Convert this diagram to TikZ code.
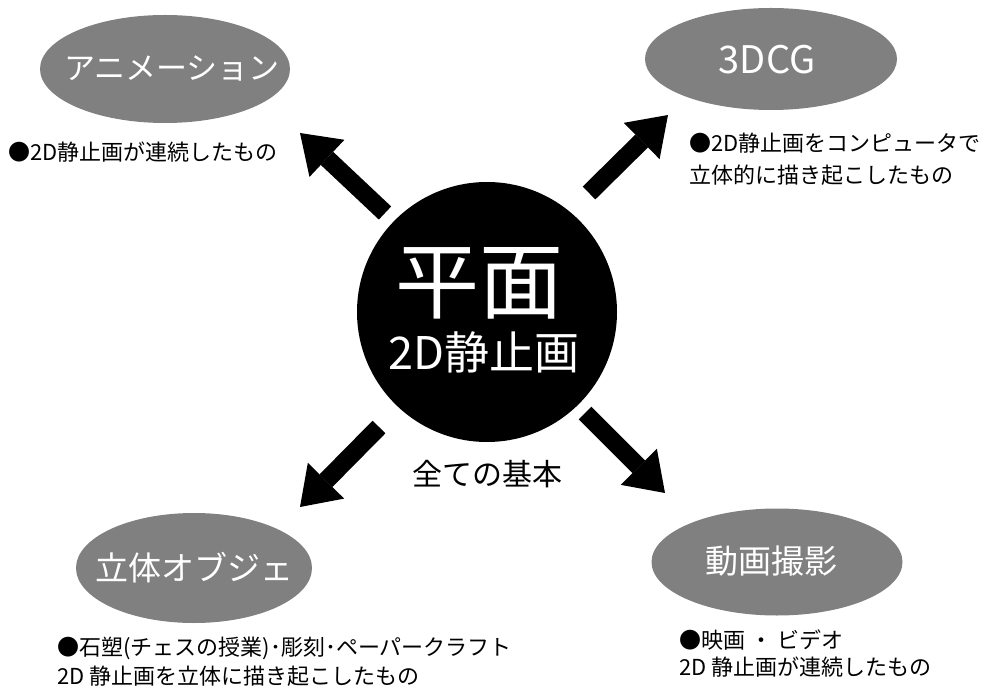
\documentclass[tikz,border=0pt]{standalone}
\usepackage{fontspec}
\setmainfont{Noto Sans CJK JP}
\usetikzlibrary{positioning,shapes.geometric,arrows.meta}

\tikzset{
  topic/.style={ellipse, fill=black!50, inner sep=0pt},
  topictext/.style={text=white, inner sep=0pt, font=\fontsize{33}{33}\selectfont},
  note/.style={anchor=west, align=left, inner sep=0pt, font=\fontsize{22}{29}\selectfont},
  bigarrow/.style={line width=18pt, -{Triangle[width=51pt,length=37pt,line width=0pt]}},
}

\begin{document}
\begin{tikzpicture}[x=1pt, y=-1pt]
\useasboundingbox (0,0) rectangle (985,692);

% centre
\node[circle, fill=black, minimum size=260pt, inner sep=0pt] (plane) at (487,312) {};
\node[text=white, inner sep=0pt, font=\fontsize{84}{84}\selectfont] (planetitle) at (479,283) {平面};
\node[text=white, inner sep=0pt, font=\fontsize{45}{45}\selectfont] (planesub) at (484,352) {2D静止画};
\node[inner sep=0pt, font=\fontsize{30}{30}\selectfont] (base) at (487,474) {全ての基本};

% four fields
\node[topic, minimum width=250pt, minimum height=108pt] (anim) at (165,69) {};
\node[topic, minimum width=252pt, minimum height=102pt] (cg) at (771,59) {};
\node[topic, minimum width=236pt, minimum height=110pt] (solid) at (194,568) {};
\node[topic, minimum width=251pt, minimum height=107pt] (movie) at (777,562) {};

\node[topictext, font=\fontsize{31}{31}\selectfont] (animtext) at (172,68) {アニメーション};
\node[topictext, font=\fontsize{38}{38}\selectfont] (cgtext) at (767,60) {3DCG};
\node[topictext] (solidtext) at (194,568) {立体オブジェ};
\node[topictext] (movietext) at (771,561) {動画撮影};

% notes
\node[note] (animnote) at (8,152) {●2D静止画が連続したもの};
\node[note, font=\fontsize{22}{32}\selectfont] (cgnote) at (689,159) {●2D静止画をコンピュータで\\立体的に描き起こしたもの};
\node[note] (solidnote) at (57,662) {●石塑(チェスの授業)･彫刻･ペーパークラフト\\2D 静止画を立体に描き起こしたもの};
\node[note, font=\fontsize{22}{27}\selectfont] (movienote) at (679,654) {●映画 ・ ビデオ\\2D 静止画が連続したもの};

% arrows
\coordinate (ultail) at (385,213);
\coordinate (ultip) at (300,133);
\coordinate (urtail) at (589,193);
\coordinate (urtip) at (668,115);
\coordinate (lltail) at (379,427);
\coordinate (lltip) at (300,507);
\coordinate (lrtail) at (585,413);
\coordinate (lrtip) at (665,493);

\draw[bigarrow] (ultail) -- (ultip);
\draw[bigarrow] (urtail) -- (urtip);
\draw[bigarrow] (lltail) -- (lltip);
\draw[bigarrow] (lrtail) -- (lrtip);

\end{tikzpicture}
\end{document}
